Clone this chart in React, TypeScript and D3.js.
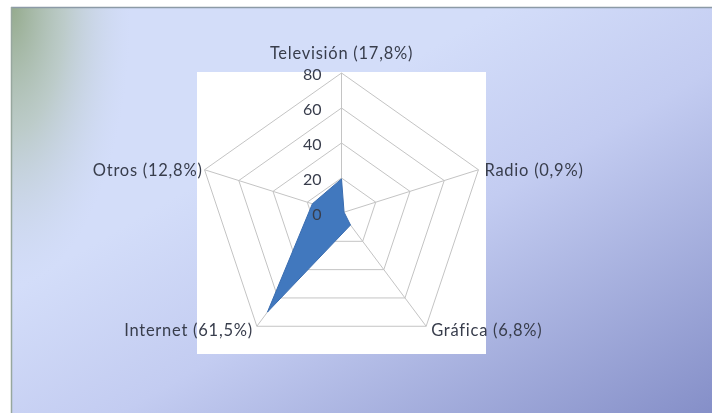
import React from "react";
import * as d3 from "d3";

const categories = ["Televisión (17,8%)", "Radio (0,9%)", "Gráfica (6,8%)", "Internet (61,5%)", "Otros (12,8%)"];
const values = [19.5, 1.5, 8.5, 70, 17];
const tickValues = [0, 20, 40, 60, 80];

const W = 712;
const H = 415;

export default function App() {
  const cx = 341.5;
  const cy = 213;
  const rx = d3.scaleLinear().domain([0, 80]).range([0, 144]);
  const ry = d3.scaleLinear().domain([0, 80]).range([0, 140]);
  const angle = d3.scaleLinear().domain([0, categories.length]).range([0, 2 * Math.PI]);

  const pt = (i: number, v: number): [number, number] => {
    const a = angle(i);
    return [cx + rx(v) * Math.sin(a), cy - ry(v) * Math.cos(a)];
  };

  const line = d3.line<[number, number]>().curve(d3.curveLinearClosed);

  const rings = tickValues.filter((t) => t > 0).map((t) => line(categories.map((_, i) => pt(i, t))) || "");
  const dataPath = line(values.map((v, i) => pt(i, v))) || "";

  const labelPos = [
    { dx: 0, dy: -20, anchor: "middle" },
    { dx: 6, dy: 0, anchor: "start" },
    { dx: 5, dy: 4, anchor: "start" },
    { dx: -4, dy: 4, anchor: "end" },
    { dx: -2, dy: 0, anchor: "end" },
  ];

  return (
    <svg width={W} height={H} style={{ position: "absolute", left: 0, top: 0 }}>
      <defs>
        <linearGradient id="bg" x1="0.35" y1="0.35" x2="1" y2="1">
          <stop offset="0" stopColor="#d3ddf9" />
          <stop offset="0.35" stopColor="#c3ccf1" />
          <stop offset="1" stopColor="#858fc8" />
        </linearGradient>
        <radialGradient
          id="green"
          cx="0"
          cy="0"
          r="1"
          gradientUnits="userSpaceOnUse"
          gradientTransform="translate(11,7) scale(120,280)"
        >
          <stop offset="0" stopColor="#94aa8c" stopOpacity="1" />
          <stop offset="0.45" stopColor="#b0c2b0" stopOpacity="0.65" />
          <stop offset="1" stopColor="#c8d4e8" stopOpacity="0" />
        </radialGradient>
        <filter id="blur" x="-5%" y="-20%" width="110%" height="140%">
          <feGaussianBlur stdDeviation="0.45" />
        </filter>
      </defs>
      <rect x={0} y={0} width={W} height={H} fill="#ffffff" />
      <rect x={11} y={7} width={W - 11} height={H - 9} fill="url(#bg)" />
      <rect x={11} y={7} width={W - 11} height={H - 9} fill="url(#green)" />
      <line x1={11} y1={7.5} x2={W} y2={7.5} stroke="#8c9aa6" strokeWidth={1.5} />
      <line x1={11.5} y1={7} x2={11.5} y2={H - 2} stroke="#97a79e" strokeWidth={1.5} />

      <rect x={197} y={72} width={289} height={282} fill="#ffffff" />

      <g stroke="#c4c4c4" strokeWidth={1} fill="none">
        {rings.map((d, i) => (
          <path key={i} d={d} />
        ))}
        {categories.map((_, i) => {
          const [x, y] = pt(i, 80);
          return <line key={i} x1={cx} y1={cy} x2={x} y2={y} />;
        })}
      </g>

      <path d={dataPath} fill="#4178be" stroke="#3a6db0" strokeWidth={1} />

      <g fontFamily="Lato, 'Open Sans', sans-serif" fill="#383d4c" filter="url(#blur)">
        {tickValues.map((t) => (
          <text key={t} x={cx - 20} y={cy - ry(t) + 1} dy="0.35em" textAnchor="end" fontSize={16}>
            {t}
          </text>
        ))}
        {categories.map((c, i) => {
          const [x, y] = pt(i, 80);
          const p = labelPos[i];
          return (
            <text
              key={c}
              x={x + p.dx}
              y={y + p.dy}
              dy="0.35em"
              textAnchor={p.anchor}
              fontSize={16.5}
              letterSpacing={0.75}
            >
              {c}
            </text>
          );
        })}
      </g>
    </svg>
  );
}
